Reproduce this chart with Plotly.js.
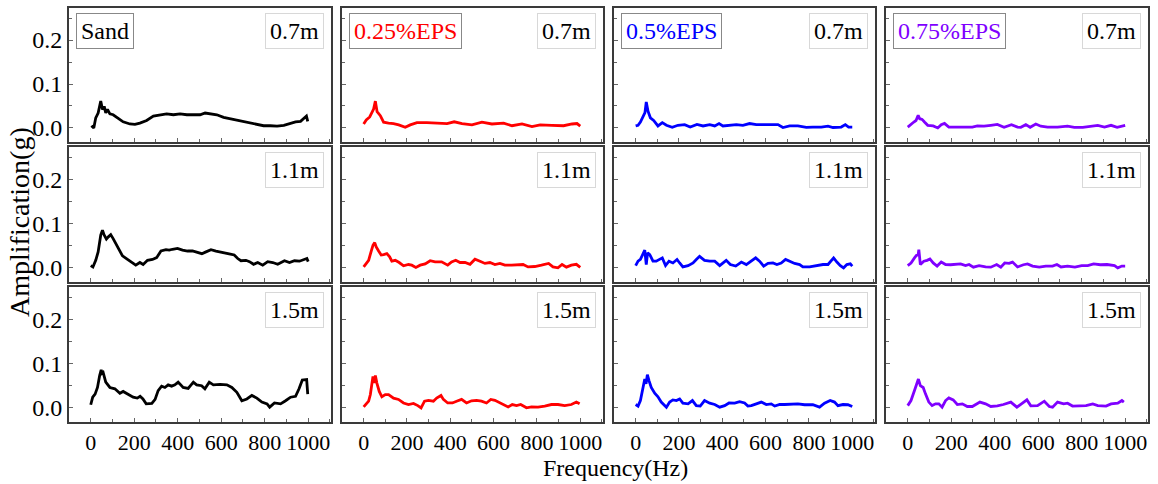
<!DOCTYPE html>
<html>
<head>
<meta charset="utf-8">
<script src="https://cdn.plot.ly/plotly-3.0.1.min.js"></script>
<style>html,body{margin:0;padding:0;background:#fff}#chart{width:1158px;height:484px}</style>
</head>
<body>
<div id="chart"></div>
<script>
// ---- data ----
const materials = ["Sand", "0.25%EPS", "0.5%EPS", "0.75%EPS"];
const depths = ["0.7m", "1.1m", "1.5m"];
const colors = ["#000000", "#ff0000", "#0000ff", "#7f00ff"];

const freqSand07 = [3,14,23,34,46,54,62,69,77,88,103,126,149,180,203,226,257,288,318,349,380,411,442,472,503,526,549,580,611,642,672,703,734,765,795,826,857,888,918,942,965,983,992,998];
const ampSand07  = [0.005,0.0,0.023,0.034,0.061,0.042,0.049,0.034,0.042,0.032,0.030,0.021,0.014,0.009,0.008,0.011,0.017,0.027,0.030,0.032,0.030,0.032,0.030,0.030,0.030,0.034,0.032,0.030,0.024,0.021,0.017,0.014,0.011,0.008,0.005,0.005,0.004,0.006,0.011,0.014,0.015,0.023,0.027,0.015];

const freqSand11 = [0,10,23,34,46,54,61,72,81,92,103,115,131,146,169,192,207,226,241,261,284,303,323,346,361,376,399,422,445,468,492,511,530,553,576,599,622,642,660,676,691,714,730,749,768,791,814,837,860,891,914,937,960,983,994,1000];
const ampSand11  = [0.005,0.002,0.017,0.036,0.074,0.085,0.075,0.065,0.070,0.075,0.066,0.055,0.040,0.027,0.019,0.011,0.006,0.012,0.0075,0.017,0.019,0.023,0.038,0.041,0.040,0.042,0.044,0.040,0.038,0.038,0.035,0.032,0.036,0.041,0.038,0.035,0.032,0.031,0.029,0.021,0.016,0.017,0.014,0.008,0.012,0.006,0.014,0.012,0.008,0.016,0.012,0.016,0.015,0.019,0.021,0.014];

const freqSand15 = [0,9,20,31,41,48,52,57,69,88,111,134,149,172,195,214,227,240,255,281,296,310,326,341,356,372,387,402,425,448,472,487,510,525,545,564,595,626,649,672,695,718,741,764,787,811,823,845,873,896,919,942,958,973,993,998];
const ampSand15  = [0.007,0.024,0.031,0.046,0.073,0.086,0.078,0.080,0.058,0.046,0.043,0.033,0.037,0.031,0.024,0.022,0.026,0.020,0.009,0.010,0.019,0.039,0.049,0.046,0.052,0.049,0.052,0.058,0.046,0.044,0.058,0.052,0.050,0.043,0.058,0.052,0.053,0.052,0.046,0.035,0.016,0.020,0.028,0.022,0.013,0.009,0.0015,0.011,0.009,0.016,0.024,0.026,0.043,0.063,0.064,0.031];

const freqEps25_07 = [0,12,28,38,46,54,62,77,92,115,138,162,192,215,246,292,338,385,418,454,500,546,592,646,685,731,777,815,869,923,962,985,1000];
const ampEps25_07  = [0.009,0.018,0.025,0.035,0.043,0.061,0.037,0.028,0.013,0.011,0.010,0.007,0.0015,0.007,0.012,0.012,0.011,0.010,0.014,0.010,0.007,0.013,0.009,0.011,0.005,0.009,0.003,0.007,0.006,0.005,0.009,0.010,0.004];

const freqEps25_11 = [0,11,23,35,43,51,58,69,81,92,107,120,130,146,164,184,207,222,241,261,284,307,330,360,388,406,425,445,468,491,514,537,560,583,606,629,652,683,713,736,759,790,821,854,874,897,916,936,959,982,1000];
const ampEps25_11  = [0.002,0.010,0.017,0.038,0.051,0.057,0.047,0.038,0.029,0.030,0.032,0.025,0.015,0.017,0.012,0.0045,0.0075,0.006,0.001,0.006,0.009,0.016,0.0135,0.0135,0.006,0.0135,0.017,0.012,0.012,0.008,0.0195,0.015,0.010,0.012,0.0075,0.010,0.006,0.006,0.006,0.0075,0.002,0.003,0.006,0.010,0.002,0.0,0.0075,0.0015,0.006,0.008,0.001];

const freqEps25_15 = [0,11,23,31,38,43,48,54,61,72,84,100,115,138,161,184,207,230,250,265,281,299,322,337,357,368,388,410,429,452,475,498,521,544,567,587,606,629,652,667,686,706,725,752,775,805,836,867,897,928,959,982,997];
const ampEps25_15  = [0.002,0.0075,0.015,0.030,0.050,0.071,0.056,0.073,0.056,0.037,0.025,0.030,0.030,0.022,0.019,0.011,0.0075,0.010,0.005,0.0,0.015,0.017,0.015,0.022,0.028,0.019,0.011,0.011,0.015,0.019,0.011,0.016,0.017,0.015,0.011,0.019,0.017,0.011,0.005,0.002,0.0075,0.005,0.0075,0.0,0.002,0.0015,0.004,0.0075,0.0075,0.005,0.0075,0.013,0.009];

const freqEps5_07 = [0,11,22,34,43,49,57,68,83,103,123,142,169,195,226,252,283,311,342,365,385,403,434,465,495,526,557,595,634,657,680,711,749,788,818,857,888,911,949,968,983,1000];
const ampEps5_07  = [0.0045,0.006,0.0135,0.025,0.035,0.059,0.038,0.023,0.017,0.0045,0.012,0.006,0.0015,0.006,0.0075,0.002,0.008,0.0045,0.0075,0.0045,0.010,0.0045,0.006,0.0075,0.006,0.010,0.0075,0.0075,0.006,0.0075,0.001,0.0045,0.0045,0.0015,0.002,0.002,0.004,0.001,0.002,0.0075,0.002,0.002];

const freqEps5_11 = [0,11,22,34,42,49,55,65,80,95,111,123,138,154,172,191,203,218,242,265,280,295,318,342,365,388,418,437,462,488,511,534,554,572,591,611,634,652,672,692,711,734,757,772,803,834,865,888,903,914,929,945,960,975,991,1000];
const ampEps5_11  = [0.005,0.015,0.019,0.034,0.040,0.0075,0.034,0.030,0.015,0.015,0.019,0.0225,0.005,0.015,0.011,0.019,0.011,0.002,0.005,0.011,0.019,0.026,0.017,0.015,0.015,0.005,0.017,0.0075,0.004,0.013,0.0075,0.015,0.0225,0.015,0.004,0.010,0.011,0.0075,0.011,0.019,0.015,0.010,0.0075,0.002,0.002,0.005,0.0075,0.0075,0.017,0.0225,0.013,0.005,0.0,0.0075,0.009,0.004];

const freqEps5_15 = [0,11,22,34,42,48,54,62,72,88,103,118,142,157,172,188,203,218,242,262,280,298,318,342,365,388,411,431,457,480,503,518,534,557,580,603,626,642,665,688,718,749,780,818,849,872,898,918,934,957,980,1000];
const ampEps5_15  = [0.0075,0.004,0.0165,0.046,0.065,0.054,0.075,0.061,0.046,0.033,0.025,0.013,0.0015,0.013,0.018,0.0165,0.020,0.0105,0.009,0.0165,0.005,0.004,0.0165,0.0105,0.0075,0.0015,0.005,0.011,0.0105,0.014,0.011,0.004,0.005,0.009,0.013,0.0075,0.009,0.004,0.0075,0.0075,0.009,0.009,0.007,0.007,0.0015,0.0105,0.0165,0.013,0.005,0.0075,0.007,0.003];

const freqEps75_07 = [0,12,28,38,48,55,66,77,92,117,138,154,169,189,220,258,297,320,351,382,412,443,477,505,520,543,563,589,612,643,689,735,766,805,843,874,905,935,963,985,1000];
const ampEps75_07  = [0.002,0.0075,0.0135,0.017,0.029,0.021,0.0195,0.0135,0.006,0.0045,0.0,0.0075,0.0105,0.002,0.002,0.003,0.002,0.0045,0.004,0.006,0.008,0.0015,0.0075,0.002,0.0015,0.0075,0.0015,0.009,0.004,0.002,0.002,0.004,0.0015,0.0015,0.004,0.006,0.002,0.006,0.0015,0.004,0.006];

const freqEps75_11 = [0,15,31,40,48,51,58,74,89,102,117,135,154,174,197,220,243,266,282,302,328,358,382,409,428,446,466,482,505,532,551,574,605,635,666,686,705,735,769,800,828,855,886,917,951,966,985,1000];
const ampEps75_11  = [0.005,0.011,0.0225,0.028,0.030,0.041,0.0075,0.015,0.017,0.020,0.011,0.004,0.013,0.0075,0.007,0.0075,0.009,0.005,0.0075,0.0015,0.005,0.002,0.0015,0.0075,0.0015,0.011,0.010,0.013,0.002,0.007,0.009,0.004,0.0015,0.004,0.004,0.0075,0.002,0.004,0.0015,0.005,0.005,0.009,0.007,0.0075,0.005,0.0,0.004,0.004];

const freqEps75_15 = [0,15,31,43,49,58,71,82,97,112,128,143,158,174,189,209,228,251,274,297,332,358,382,412,440,474,502,523,548,566,597,628,651,666,689,717,735,758,789,820,851,874,912,935,966,985,994];
const ampEps75_15  = [0.005,0.0165,0.039,0.058,0.065,0.050,0.046,0.031,0.013,0.005,0.009,0.009,0.0015,0.0165,0.0225,0.018,0.0075,0.009,0.003,0.003,0.013,0.009,0.003,0.0045,0.0075,0.013,0.0015,0.009,0.018,0.0045,0.005,0.015,0.003,0.0015,0.013,0.009,0.0105,0.004,0.0045,0.005,0.009,0.005,0.004,0.009,0.0105,0.0165,0.013];

const xTickVals = [0,200,400,600,800,1000];
const yTickVals = [0.0,0.1,0.2];

// series grid [row][col]
const seriesFreq = [
  [freqSand07, freqEps25_07, freqEps5_07, freqEps75_07],
  [freqSand11, freqEps25_11, freqEps5_11, freqEps75_11],
  [freqSand15, freqEps25_15, freqEps5_15, freqEps75_15]
];
const seriesAmp = [
  [ampSand07, ampEps25_07, ampEps5_07, ampEps75_07],
  [ampSand11, ampEps25_11, ampEps5_11, ampEps75_11],
  [ampSand15, ampEps25_15, ampEps5_15, ampEps75_15]
];

// ---- layout ----
const W = 1158, H = 484;
const colPx = [[69,331],[342,603],[614,875],[886,1148]];
const rowPx = [[8,142],[147,282],[287,422]];
const FONT = "Liberation Serif, 'Times New Roman', serif";

const traces = [];
const layout = {
  width: W, height: H,
  margin: {l:0, r:0, t:0, b:0},
  paper_bgcolor: "#fff", plot_bgcolor: "#fff",
  showlegend: false,
  font: {family: FONT, color: "#000", size: 22},
  annotations: []
};

for (let r = 0; r < 3; r++) {
  for (let c = 0; c < 4; c++) {
    const n = r*4 + c + 1;
    const sfx = n === 1 ? "" : String(n);
    traces.push({
      x: seriesFreq[r][c], y: seriesAmp[r][c],
      type: "scatter", mode: "lines",
      line: {color: colors[c], width: 2.8},
      xaxis: "x" + sfx, yaxis: "y" + sfx,
      hoverinfo: "skip"
    });
    const common = {
      showline: true, mirror: true, linecolor: "#3a3a3a", linewidth: 2,
      ticks: "inside", ticklen: 4, tickwidth: 1, tickcolor: "#666",
      showgrid: false, zeroline: false, automargin: false
    };
    layout["xaxis" + sfx] = Object.assign({}, common, {
      domain: [colPx[c][0]/W, colPx[c][1]/W],
      anchor: "y" + sfx,
      range: [-100, 1105],
      tickvals: xTickVals,
      tickangle: 0,
      tickfont: {family: FONT, size: 22, color: "#000"},
      minor: {dtick: 100, tick0: 0, ticks: "inside", ticklen: 3, tickcolor: "#666"},
      showticklabels: r === 2
    });
    layout["yaxis" + sfx] = Object.assign({}, common, {
      domain: [1 - rowPx[r][1]/H, 1 - rowPx[r][0]/H],
      anchor: "x" + sfx,
      range: [-0.032, 0.273],
      tickvals: yTickVals,
      tickformat: ".1f",
      tickfont: {family: FONT, size: 24, color: "#000"},
      minor: {dtick: 0.05, tick0: 0, ticks: "inside", ticklen: 3, tickcolor: "#666"},
      showticklabels: c === 0
    });
    // depth label (top-right)
    layout.annotations.push({
      xref: "x" + sfx + " domain", yref: "y" + sfx + " domain",
      x: 0.975, y: 0.965, xanchor: "right", yanchor: "top",
      text: depths[r], showarrow: false,
      font: {family: FONT, size: 24, color: "#000"},
      bordercolor: "#d8d8d8", borderwidth: 1, borderpad: 4, bgcolor: "#fff"
    });
    // material label (top-left, first row only)
    if (r === 0) {
      layout.annotations.push({
        xref: "x" + sfx + " domain", yref: "y" + sfx + " domain",
        x: 0.025, y: 0.965, xanchor: "left", yanchor: "top",
        text: materials[c], showarrow: false,
        font: {family: FONT, size: 24, color: colors[c]},
        bordercolor: "#888", borderwidth: 1, borderpad: 4, bgcolor: "#fff"
      });
    }
  }
}

// axis titles
layout.annotations.push({
  xref: "paper", yref: "paper",
  x: 615/W, y: 1 - 468/H, xanchor: "center", yanchor: "middle",
  text: "Frequency(Hz)", showarrow: false,
  font: {family: FONT, size: 24, color: "#000"}
});
layout.annotations.push({
  xref: "paper", yref: "paper",
  x: 19/W, y: 1 - 222/H, xanchor: "center", yanchor: "middle",
  text: "Amplification(g)", showarrow: false, textangle: -90,
  font: {family: FONT, size: 28, color: "#000"}
});

Plotly.newPlot("chart", traces, layout, {displayModeBar: false, staticPlot: true});
</script>
</body>
</html>
